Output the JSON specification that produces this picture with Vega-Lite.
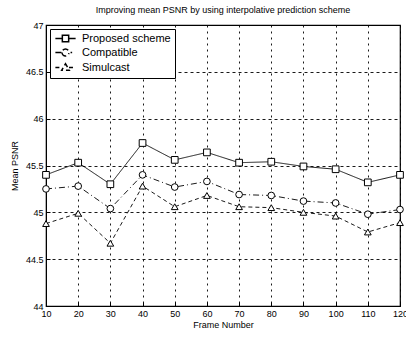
{
  "$schema": "https://vega.github.io/schema/vega-lite/v6.json",
  "width": 354,
  "height": 281,
  "autosize": "none",
  "padding": {"left": 46, "top": 25, "right": 6, "bottom": 32},
  "background": "white",
  "title": {"text": "Improving mean PSNR by using interpolative prediction scheme", "fontSize": 9, "fontWeight": "normal", "font": "Liberation Sans", "offset": 6, "color": "black"},
  "config": {
    "view": {"stroke": "black", "strokeWidth": 1.2},
    "axis": {"labelFont": "Liberation Sans", "titleFont": "Liberation Sans", "labelFontSize": 9, "titleFontSize": 9, "titleFontWeight": "normal", "labelColor": "black", "titleColor": "black", "domainColor": "black", "tickColor": "black", "gridColor": "black", "gridOpacity": 0.9, "gridWidth": 1}
  },
  "resolve": {"legend": {"shape": "independent", "strokeDash": "independent"}},
  "data": {"values": [
    {"frame": 10, "series": "Proposed scheme", "psnr": 45.40},
    {"frame": 20, "series": "Proposed scheme", "psnr": 45.53},
    {"frame": 30, "series": "Proposed scheme", "psnr": 45.30},
    {"frame": 40, "series": "Proposed scheme", "psnr": 45.74},
    {"frame": 50, "series": "Proposed scheme", "psnr": 45.56},
    {"frame": 60, "series": "Proposed scheme", "psnr": 45.64},
    {"frame": 70, "series": "Proposed scheme", "psnr": 45.53},
    {"frame": 80, "series": "Proposed scheme", "psnr": 45.54},
    {"frame": 90, "series": "Proposed scheme", "psnr": 45.49},
    {"frame": 100, "series": "Proposed scheme", "psnr": 45.46},
    {"frame": 110, "series": "Proposed scheme", "psnr": 45.32},
    {"frame": 120, "series": "Proposed scheme", "psnr": 45.40},
    {"frame": 10, "series": "Compatible", "psnr": 45.25},
    {"frame": 20, "series": "Compatible", "psnr": 45.28},
    {"frame": 30, "series": "Compatible", "psnr": 45.04},
    {"frame": 40, "series": "Compatible", "psnr": 45.40},
    {"frame": 50, "series": "Compatible", "psnr": 45.27},
    {"frame": 60, "series": "Compatible", "psnr": 45.33},
    {"frame": 70, "series": "Compatible", "psnr": 45.19},
    {"frame": 80, "series": "Compatible", "psnr": 45.18},
    {"frame": 90, "series": "Compatible", "psnr": 45.12},
    {"frame": 100, "series": "Compatible", "psnr": 45.10},
    {"frame": 110, "series": "Compatible", "psnr": 44.98},
    {"frame": 120, "series": "Compatible", "psnr": 45.03},
    {"frame": 10, "series": "Simulcast", "psnr": 44.88},
    {"frame": 20, "series": "Simulcast", "psnr": 44.99},
    {"frame": 30, "series": "Simulcast", "psnr": 44.67},
    {"frame": 40, "series": "Simulcast", "psnr": 45.28},
    {"frame": 50, "series": "Simulcast", "psnr": 45.06},
    {"frame": 60, "series": "Simulcast", "psnr": 45.18},
    {"frame": 70, "series": "Simulcast", "psnr": 45.06},
    {"frame": 80, "series": "Simulcast", "psnr": 45.05},
    {"frame": 90, "series": "Simulcast", "psnr": 45.00},
    {"frame": 100, "series": "Simulcast", "psnr": 44.96},
    {"frame": 110, "series": "Simulcast", "psnr": 44.79},
    {"frame": 120, "series": "Simulcast", "psnr": 44.89}
  ]},
  "encoding": {
    "x": {"field": "frame", "type": "quantitative", "scale": {"domain": [10, 120], "nice": false, "zero": false},
      "axis": {"title": "Frame Number", "values": [10,20,30,40,50,60,70,80,90,100,110,120], "grid": true, "gridDash": [2, 4], "tickSize": -4, "titlePadding": 2, "labelPadding": 7, "labelFlush": false}},
    "y": {"field": "psnr", "type": "quantitative", "scale": {"domain": [44, 47], "nice": false, "zero": false},
      "axis": {"title": "Mean PSNR", "values": [44, 44.5, 45, 45.5, 46, 46.5, 47], "format": "~g", "grid": true, "gridDash": [3, 3], "tickSize": -4, "labelPadding": 7, "titlePadding": 6, "labelFlush": false}}
  },
  "layer": [
    {
      "mark": {"type": "line", "color": "black", "strokeWidth": 0.9},
      "encoding": {
        "strokeDash": {"field": "series", "type": "nominal", "scale": {"domain": ["Proposed scheme", "Compatible", "Simulcast"], "range": [[1, 0], [6, 3, 1, 3], [4, 3]]},
          "legend": {"title": null, "orient": "top-left", "offset": 4, "fillColor": "white", "strokeColor": "black", "padding": 4, "labelFont": "Liberation Sans", "labelFontSize": 11, "labelColor": "black", "symbolSize": 40, "rowPadding": 1, "symbolOffset": 6, "labelOffset": 11,
            "symbolType": {"expr": "datum.value === 'Proposed scheme' ? 'M-3.2,0H-1M1,0H3.2M-1,-1H1V1H-1Z' : datum.value === 'Compatible' ? 'M-3.2,0H-1.1M1.6,0H2.1M-1.1,0A1.1,1.1 0 1,0 1.1,0A1.1,1.1 0 1,0 -1.1,0Z' : 'M-3.2,0H-1.1M1.1,0H3.2M0,-1.2L1.2,0.9H-1.2Z'"},
            "encode": {"symbols": {"update": {
              "stroke": {"value": "black"}, "strokeWidth": {"value": 1}, "fill": {"value": "white"}, "opacity": {"value": 1}, "fillOpacity": {"value": 1}
            }}}}}
      }
    },
    {
      "mark": {"type": "point", "color": "black", "filled": false, "fill": "white", "fillOpacity": 1, "size": 45, "strokeWidth": 1, "opacity": 1},
      "encoding": {
        "shape": {"field": "series", "type": "nominal", "scale": {"domain": ["Proposed scheme", "Compatible", "Simulcast"], "range": ["square", "circle", "triangle-up"]}, "legend": null}
      }
    }
  ]
}
